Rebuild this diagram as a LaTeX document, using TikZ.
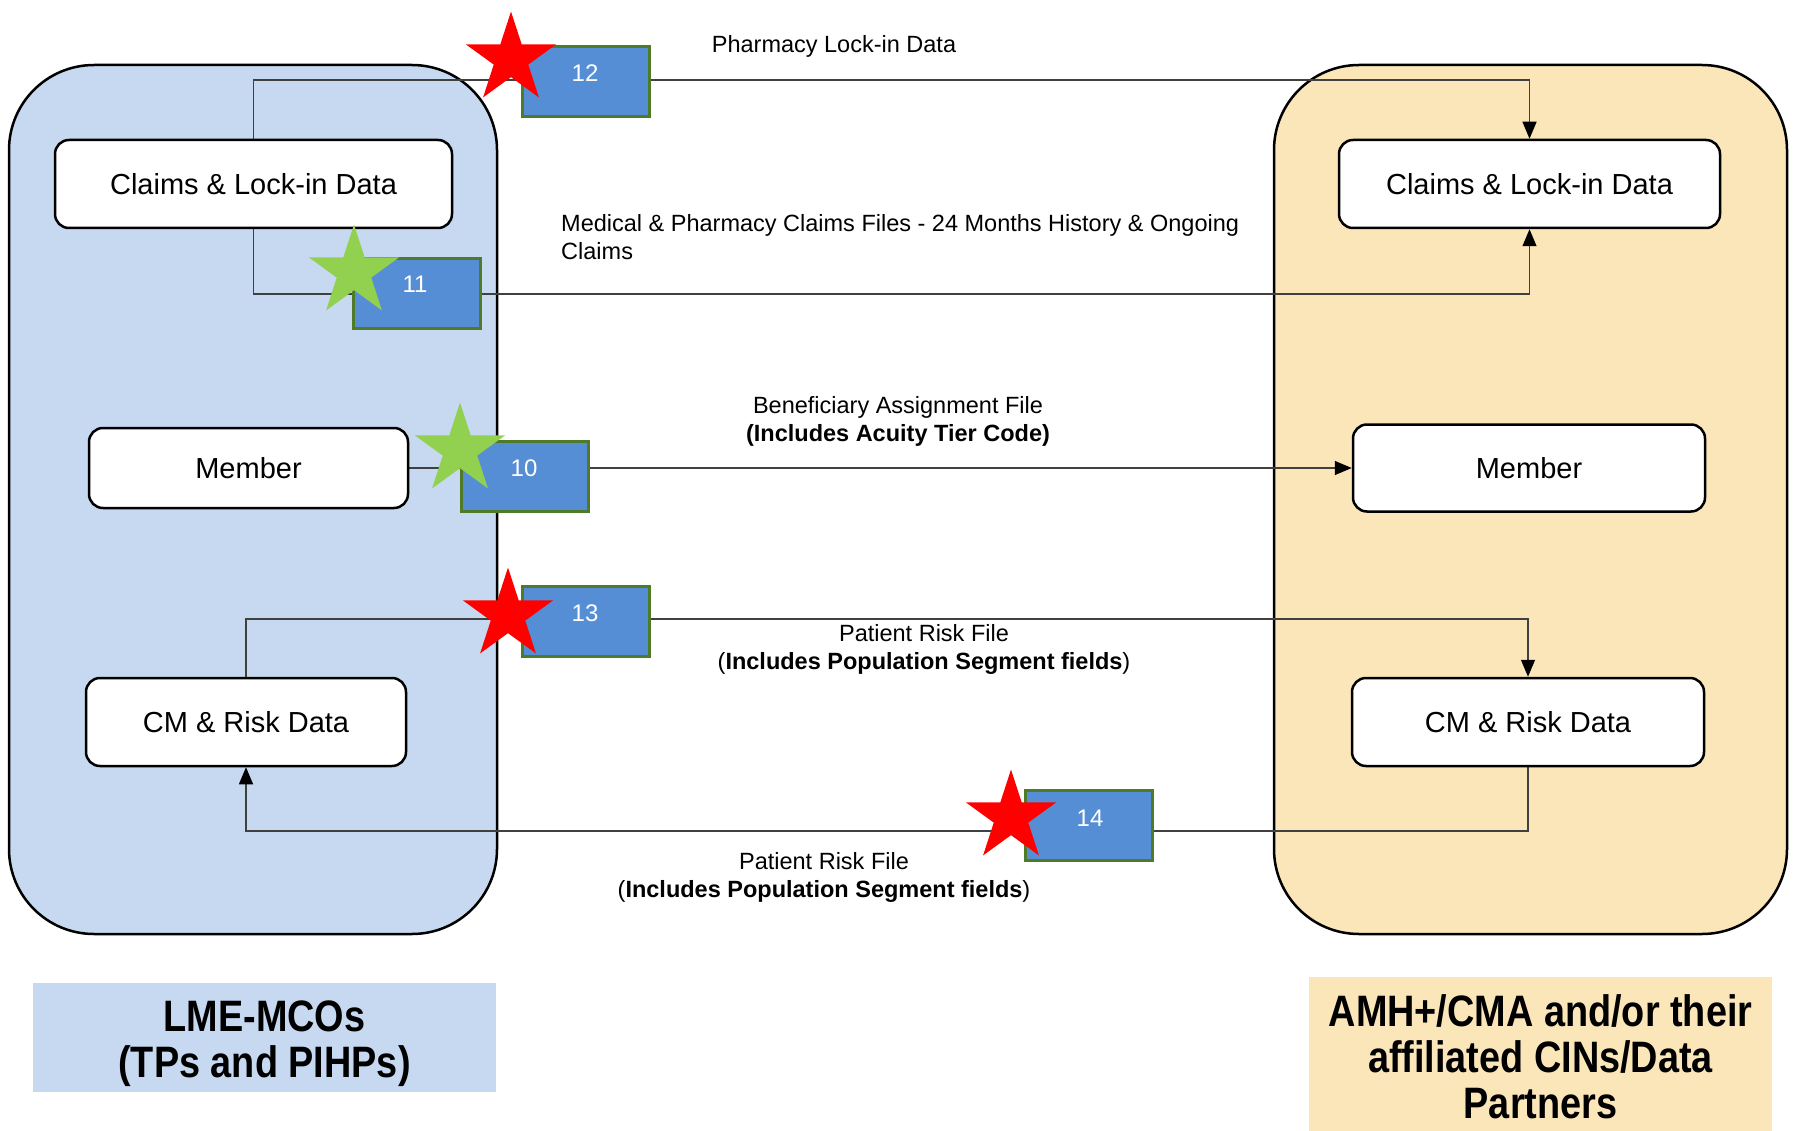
\documentclass[tikz,border=0pt]{standalone}
\usepackage{fontspec}
\setmainfont{Liberation Sans}
\newfontfamily\titlefont{Liberation Sans}[FakeStretch=0.86]
\usetikzlibrary{shapes.geometric,arrows.meta}
\definecolor{panelblue}{HTML}{C6D9F0}
\definecolor{panelyellow}{HTML}{FAE6B9}
\definecolor{stepblue}{HTML}{558ED5}
\definecolor{stepgreen}{HTML}{4F7A28}
\definecolor{starred}{HTML}{FF0000}
\definecolor{stargreen}{HTML}{92D050}
\definecolor{linegray}{HTML}{404040}
\pgfdeclarelayer{bg}
\pgfdeclarelayer{mid}
\pgfsetlayers{bg,mid,main}
\begin{document}
\begin{tikzpicture}[x=1pt,y=-1pt,
  panel/.style={draw=black, line width=2.5pt, rounded corners=85pt},
  databox/.style={draw=black, fill=white, line width=2.5pt, rounded corners=14pt,
    font=\fontsize{29}{34}\selectfont, inner sep=0pt},
  numbox/.style={draw=stepgreen, fill=stepblue, line width=3pt, inner sep=0pt,
    minimum width=127pt, minimum height=70pt},
  numtext/.style={text=white, font=\fontsize{24}{28}\selectfont, inner sep=0pt},
  starbase/.style={star, star points=5, star point ratio=2.618, minimum size=95pt, inner sep=0pt, draw=none},
  redstar/.style={starbase, fill=starred},
  greenstar/.style={starbase, fill=stargreen},
  flow/.style={draw=linegray, line width=1.3pt},
  tip/.style={-{Triangle[width=14pt,length=17pt,color=black]}},
  lbl/.style={font=\fontsize{23.5}{28}\selectfont, align=center, inner sep=0pt},
  titlebox/.style={inner sep=0pt, font=\titlefont\bfseries\fontsize{44}{46}\selectfont, align=center}
]
\useasboundingbox (0,0) rectangle (1793,1131);

% panels
\begin{pgfonlayer}{bg}
\fill[white] (0,0) rectangle (1793,1131);
\draw[panel, fill=panelblue] (9,65) rectangle (497,934);
\draw[panel, fill=panelyellow] (1274,65) rectangle (1787,934);
\fill[panelblue] (33,983) rectangle (496,1092);
\fill[panelyellow] (1309,977) rectangle (1772,1131);
\end{pgfonlayer}

% data boxes
\node[databox, minimum width=397pt, minimum height=88pt] (lclaims) at (253.5,184) {Claims \& Lock-in Data};
\node[databox, minimum width=319pt, minimum height=80pt] (lmember) at (248.5,468) {Member};
\node[databox, minimum width=320pt, minimum height=88pt] (lcm) at (246,722) {CM \& Risk Data};
\node[databox, minimum width=381pt, minimum height=88pt] (rclaims) at (1529.5,184) {Claims \& Lock-in Data};
\node[databox, minimum width=352pt, minimum height=87pt] (rmember) at (1529,468) {Member};
\node[databox, minimum width=352pt, minimum height=88pt] (rcm) at (1528,722) {CM \& Risk Data};

% numbered step boxes
\node[numbox] (n12) at (585.5,82) {};
\node[numbox] (n11) at (416.5,294) {};
\node[numbox] (n10) at (525,476) {};
\node[numbox] (n13) at (585.5,621) {};
\node[numbox] (n14) at (1089,825) {};
\node[numtext] (t12) at (585,73) {12};
\node[numtext] (t11) at (415,284) {11};
\node[numtext] (t10) at (524,468) {10};
\node[numtext] (t13) at (585,613) {13};
\node[numtext] (t14) at (1090,818) {14};

% stars
\node[redstar] (s12) at (511,59) {};
\node[greenstar] (s11) at (354,272) {};
\node[greenstar] (s10) at (460,450) {};
\node[redstar] (s13) at (508,615) {};
\node[redstar] (s14) at (1011,817) {};

\coordinate (j12) at (585,80);
\coordinate (j11) at (416,294);
\coordinate (j13) at (585,619);
\coordinate (j14) at (1089,831);

% connectors
\begin{pgfonlayer}{mid}
\draw[flow, tip] (lclaims.north) |- (j12) -| (rclaims.north);
\draw[flow, tip] (lclaims.south) |- (j11) -| (rclaims.south);
\draw[flow, tip] (lmember.east) -- (rmember.west);
\draw[flow, tip] (lcm.north) |- (j13) -| (rcm.north);
\draw[flow, tip] (rcm.south) |- (j14) -| (lcm.south);
\end{pgfonlayer}

% labels
\node[lbl] (l12) at (834,46) {Pharmacy Lock-in Data};
\node[lbl, align=left, anchor=west] (l11) at (561,237) {Medical \& Pharmacy Claims Files - 24 Months History \& Ongoing\\Claims};
\node[lbl] (l10) at (898,421.5) {Beneficiary Assignment File\\\textbf{(Includes Acuity Tier Code)}};
\node[lbl] (l13) at (924,649) {Patient Risk File\\(\textbf{Includes Population Segment fields})};
\node[lbl] (l14) at (824,877.5) {Patient Risk File\\(\textbf{Includes Population Segment fields})};

% titles
\node[titlebox] (tleft) at (264.5,1044) {LME-MCOs\\(TPs and PIHPs)};
\node[titlebox] (tright) at (1540.5,1057) {AMH+/CMA and/or their\\affiliated CINs/Data\\Partners};
\end{tikzpicture}
\end{document}
